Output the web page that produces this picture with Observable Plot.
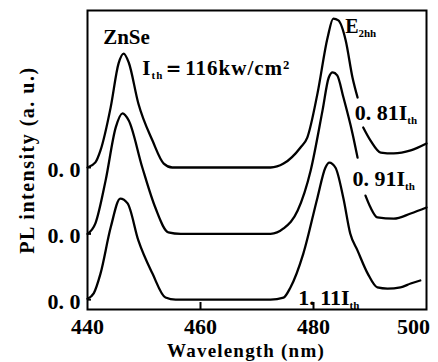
<!DOCTYPE html>
<html><head><meta charset="utf-8">
<script src="https://cdn.jsdelivr.net/npm/d3@7"></script>
<script src="https://cdn.jsdelivr.net/npm/@observablehq/plot@0.6"></script>
<style>body{margin:0;background:#fff} svg{display:block}</style>
</head><body><div id="chart"></div>
<script>
// Wavelength (nm) sampled along each spectrum
const wl081 = [440, 441.4, 442.3, 444.1, 445.5, 446.4, 447.3, 449.0, 451.5, 453.5, 455.0, 472.4, 474.7, 477.7, 478.9, 480.7, 482.5, 483.5, 484.4, 485.7, 486.9, 487.8, 488.3, 488.8, 490.1, 491.9, 494.2, 497.2, 500];
const wl091 = [440, 441.4, 443.2, 445.0, 446.2, 447.3, 449.7, 452.0, 454.3, 456.5, 472.4, 474.7, 477.2, 479.5, 481.6, 482.7, 483.4, 484.2, 485.3, 486.9, 487.8, 488.5, 489.2, 490.1, 491.3, 494.2, 497.2, 500];
const wl111 = [440, 441.1, 442.3, 444.1, 445.8, 447.1, 449.0, 451.5, 453.8, 455.6, 472.4, 474.7, 475.9, 478.2, 480.7, 482.1, 482.8, 483.9, 485.3, 486.5, 487.8, 489.6, 491.3, 493.1, 495.4, 497.2, 498.9];
// PL intensity (a.u.) above each curve's own zero; null = line interrupted by its label
const pl081 = [0, 1.7, 5.7, 20.1, 34.8, 38.1, 35.1, 21.4, 9.0, 1.3, 0, 0, 1.3, 6.7, 10.0, 24.7, 43.5, 49.8, 49.2, 42.5, 30.1, 23.4, null, 13.4, 9.0, 5.0, 4.7, 5.7, 8.0];
const pl091 = [0, 3.5, 17.8, 35.6, 40.3, 37.9, 22.2, 8.8, 0.5, 0, 0, 1.8, 7.8, 21.2, 41.3, 52.3, 54.0, 53.0, 45.6, 33.6, 25.5, null, 12.8, 8.8, 5.5, 5.1, 6.8, 8.8];
const pl111 = [0.3, 2.1, 8.7, 24.1, 33.8, 32.2, 19.8, 8.7, 0.7, 0, 0, 0.7, 4.0, 15.4, 34.1, 44.1, 45.8, 44.1, 33.8, 22.1, 16.4, 8.7, 4.1, 3.7, 4.1, 5.4, 6.4];
// vertical offsets (zero levels) of the stacked spectra
const offsets = [47.5, 25.3, 3.3];
const curveLabels = ["0. 81I_{th}", "0. 91I_{th}", "1. 11I_{th}"];
const xTicks = [440, 460, 480];
const xLastTick = [500];
const yTickLabel = "0. 0";
const sampleLabel = "ZnSe";
const thresholdLabel = "I_{th}\uFF1D116kw/cm\u00B2";
const peakLabel = "E_{2hh}";
const xTitle = "Wavelength (nm)";
const yTitle = "PL intensity (a. u.)";

const series = [
  {wl: wl081, pl: pl081, label: curveLabels[0], off: offsets[0]},
  {wl: wl091, pl: pl091, label: curveLabels[1], off: offsets[1]},
  {wl: wl111, pl: pl111, label: curveLabels[2], off: offsets[2]}
];
const rows = series.flatMap(s => s.wl.map((w, j) => ({
  wl: w, y: s.pl[j] == null ? NaN : s.pl[j] + s.off, curve: s.label
})));

const font = "'Liberation Serif', 'Times New Roman', serif";
const plot = Plot.plot({
  width: 438, height: 362,
  marginTop: 10, marginRight: 12, marginBottom: 53, marginLeft: 87,
  x: {domain: [440, 500], label: null},
  y: {domain: [0, 100], label: null},
  style: {fontFamily: font, fontSize: "22px", fontWeight: "bold", color: "black", background: "white"},
  marks: [
    Plot.axisX({ticks: xTicks, tickSize: 0, tickPadding: 9, tickFormat: d => String(d), label: null}),
    Plot.axisX({ticks: xLastTick, tickSize: 0, tickPadding: 9, tickFormat: d => String(d), label: null, dx: -13}),
    Plot.axisY({ticks: offsets, tickSize: 0, tickPadding: 7, tickFormat: () => yTickLabel, label: null, dy: 2}),
    Plot.ruleX([460, 480], {insetTop: 299 - 7, strokeWidth: 2}),
    Plot.ruleY(offsets, {insetRight: 339 - 4, strokeWidth: 2}),
    Plot.line(rows, {x: "wl", y: "y", z: "curve", curve: "monotone-x", strokeWidth: 2.3, stroke: "black"}),
    Plot.text([sampleLabel], {x: 446.9, y: 91, fontSize: 21, textAnchor: "middle"}),
    Plot.text([thresholdLabel], {x: 449.7, y: 80.6, fontSize: 21, textAnchor: "start"}),
    Plot.text([peakLabel], {x: 485.6, y: 94.6, fontSize: 20, textAnchor: "start"}),
    Plot.text([curveLabels[0]], {x: 487.3, y: 65.6, fontSize: 22, textAnchor: "start"}),
    Plot.text([curveLabels[1]], {x: 486.9, y: 43.8, fontSize: 22, textAnchor: "start"}),
    Plot.text([curveLabels[2]], {x: 477.3, y: 3.7, fontSize: 22, textAnchor: "start"}),
    Plot.text([xTitle], {frameAnchor: "bottom", lineAnchor: "middle", dy: 41, dx: -11, fontSize: 19}),
    Plot.text([yTitle], {frameAnchor: "left", textAnchor: "middle", lineAnchor: "middle", rotate: -90, dx: -60, fontSize: 20}),
    Plot.frame({strokeWidth: 2})
  ]
});

// subscripts: "_{...}" becomes a smaller, lowered tspan
const NS = "http://www.w3.org/2000/svg";
plot.querySelectorAll("text").forEach(t => {
  const s = t.textContent;
  if (s === xTitle) t.setAttribute("letter-spacing", "1.2");
  if (s === yTitle) t.setAttribute("letter-spacing", "1.5");
  if (s.startsWith("I_{th}")) t.setAttribute("letter-spacing", "1");
  if (!s.includes("_{")) return;
  const parts = s.split(/_\{([^}]*)\}/);
  t.textContent = "";
  let lowered = false;
  parts.forEach((p, i) => {
    if (!p) return;
    const ts = document.createElementNS(NS, "tspan");
    ts.textContent = p;
    if (i % 2 === 1) { ts.setAttribute("font-size", "11"); ts.setAttribute("dy", "4"); lowered = true; }
    else if (lowered) { ts.setAttribute("dy", "-4"); lowered = false; }
    t.appendChild(ts);
  });
});
document.getElementById("chart").appendChild(plot);
</script>
</body></html>
